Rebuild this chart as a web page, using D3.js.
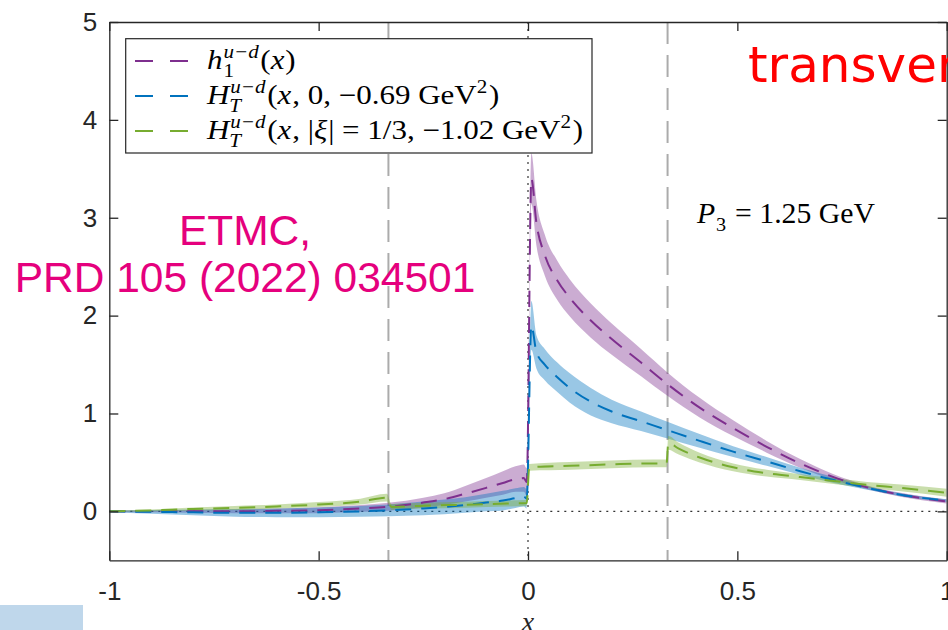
<!DOCTYPE html>
<html>
<head>
<meta charset="utf-8">
<script src="https://cdn.jsdelivr.net/npm/d3@7"></script>
<style>
  body { margin: 0; background: #fff; }
  svg text { white-space: pre; }
</style>
</head>
<body>
<div id="chart"></div>
<script>
var svgWidth = 948;
var svgHeight = 630;

// x grid shared by h1 and H_T(xi=0)
var xh = [-1, -0.9, -0.8, -0.7, -0.6, -0.5, -0.4, -0.333, -0.25, -0.2, -0.15, -0.1, -0.06, -0.03, -0.01, -0.003,
  0.008, 0.02, 0.04, 0.07, 0.1, 0.15, 0.2, 0.27, 0.333, 0.41, 0.49, 0.57, 0.65, 0.73, 0.81, 0.89, 1.0];

// h1^{u-d}(x)
var h1Mid = [0, 0, 0, 0, 0.005, 0.012, 0.03, 0.047, 0.09, 0.125, 0.18, 0.24, 0.29, 0.33, 0.34, 0.30,
  3.40, 2.95, 2.62, 2.36, 2.18, 1.95, 1.76, 1.52, 1.30, 1.06, 0.85, 0.66, 0.49, 0.35, 0.245, 0.17, 0.10];
var h1Err = [0.01, 0.01, 0.015, 0.02, 0.025, 0.03, 0.035, 0.04, 0.05, 0.06, 0.08, 0.10, 0.12, 0.13, 0.14, 0.14,
  0.26, 0.23, 0.21, 0.20, 0.19, 0.175, 0.16, 0.14, 0.12, 0.10, 0.08, 0.06, 0.045, 0.03, 0.02, 0.02, 0.02];

// H_T^{u-d}(x, 0, -0.69 GeV^2)
var ht0Mid = [0, -0.005, -0.01, -0.015, -0.015, -0.01, 0, 0.01, 0.03, 0.045, 0.065, 0.09, 0.11, 0.135, 0.15, 0.13,
  1.90, 1.63, 1.50, 1.37, 1.26, 1.12, 1.02, 0.92, 0.83, 0.72, 0.61, 0.51, 0.41, 0.32, 0.24, 0.17, 0.11];
var ht0Err = [0.01, 0.02, 0.03, 0.04, 0.045, 0.05, 0.055, 0.06, 0.07, 0.075, 0.08, 0.09, 0.10, 0.10, 0.10, 0.10,
  0.25, 0.17, 0.16, 0.15, 0.15, 0.14, 0.12, 0.10, 0.085, 0.07, 0.055, 0.045, 0.035, 0.03, 0.02, 0.015, 0.015];

// H_T^{u-d}(x, |xi|=1/3, -1.02 GeV^2)
var xg = [-1, -0.9, -0.8, -0.7, -0.6, -0.5, -0.4, -0.337, -0.326, -0.25, -0.15, -0.05, -0.003,
  0.003, 0.1, 0.2, 0.3, 0.331, 0.335, 0.36, 0.41, 0.49, 0.57, 0.65, 0.73, 0.81, 0.89, 1.0];
var ht3Mid = [0, 0.01, 0.025, 0.035, 0.05, 0.07, 0.10, 0.14, 0.045, 0.058, 0.068, 0.08, 0.085,
  0.45, 0.465, 0.48, 0.49, 0.49, 0.70, 0.64, 0.55, 0.45, 0.39, 0.35, 0.31, 0.27, 0.24, 0.19];
var ht3Err = [0.005, 0.01, 0.015, 0.02, 0.02, 0.025, 0.03, 0.04, 0.03, 0.03, 0.03, 0.03, 0.03,
  0.035, 0.04, 0.04, 0.04, 0.04, 0.07, 0.06, 0.05, 0.04, 0.035, 0.03, 0.03, 0.03, 0.035, 0.04];

var xTicks = [-1, -0.5, 0, 0.5, 1];
var xTickLabels = ["-1", "-0.5", "0", "0.5", "1"];
var yTicks = [0, 1, 2, 3, 4, 5];
var xiLines = [-1 / 3, 1 / 3];

var colors = ["#7E2F8E", "#0072BD", "#77AC30"];

var series = [
  { x: xh, mid: h1Mid, err: h1Err, color: colors[0] },
  { x: xh, mid: ht0Mid, err: ht0Err, color: colors[1] },
  { x: xg, mid: ht3Mid, err: ht3Err, color: colors[2] }
];

var legendLabels = [
  [{ t: "h", i: 1 }, { sup: "u\u2212d", sub: "1" }, { t: "(" }, { t: "x", i: 1 }, { t: ")" }],
  [{ t: "H", i: 1 }, { sup: "u\u2212d", sub: "T", subI: 1 }, { t: "(" }, { t: "x", i: 1 }, { t: ", 0, \u22120.69 GeV" }, { sup: "2" }, { t: ")" }],
  [{ t: "H", i: 1 }, { sup: "u\u2212d", sub: "T", subI: 1 }, { t: "(" }, { t: "x", i: 1 }, { t: ", |" }, { t: "\u03BE", i: 1 }, { t: "| = 1/3, \u22121.02 GeV" }, { sup: "2" }, { t: ")" }]
];

var axisColor = "#262626";

var svg = d3.select("#chart")
  .append("svg")
  .attr("width", svgWidth)
  .attr("height", svgHeight);

var xScale = d3.scaleLinear().domain([-1, 1]).range([109.3, 946.7]);
var yScale = d3.scaleLinear().domain([-0.5, 5]).range([560.3, 22]);

svg.append("rect")
  .attr("x", 0).attr("y", 605).attr("width", 83).attr("height", 25)
  .attr("fill", "#bfd7eb");

svg.append("defs").append("clipPath").attr("id", "plot")
  .append("rect")
  .attr("x", xScale(-1)).attr("y", yScale(5))
  .attr("width", xScale(1) - xScale(-1)).attr("height", yScale(-0.5) - yScale(5));

var plot = svg.append("g").attr("clip-path", "url(#plot)");

// dotted zero lines
plot.append("line")
  .attr("x1", xScale(-1)).attr("x2", xScale(1))
  .attr("y1", yScale(0)).attr("y2", yScale(0))
  .attr("stroke", "#333").attr("stroke-width", 1.2).attr("stroke-dasharray", "2,5");
plot.append("line")
  .attr("x1", xScale(0)).attr("x2", xScale(0))
  .attr("y1", yScale(5)).attr("y2", yScale(-0.5))
  .attr("stroke", "#333").attr("stroke-width", 1.2).attr("stroke-dasharray", "2,5");

// grey dashed lines at x = +-xi
plot.selectAll(".xi")
  .data(xiLines)
  .enter()
  .append("line")
  .attr("x1", d => xScale(d)).attr("x2", d => xScale(d))
  .attr("y1", yScale(5)).attr("y2", yScale(-0.5))
  .attr("stroke", "#ababab").attr("stroke-width", 2).attr("stroke-dasharray", "22,11");

var area = d3.area()
  .x(d => xScale(d.x))
  .y0(d => yScale(d.m - d.e))
  .y1(d => yScale(d.m + d.e))
  .curve(d3.curveMonotoneX);

var line = d3.line()
  .x(d => xScale(d.x))
  .y(d => yScale(d.m))
  .curve(d3.curveMonotoneX);

function pts(s) {
  return s.x.map((x, i) => ({ x: x, m: s.mid[i], e: s.err[i] }));
}

series.forEach(function(s) {
  plot.append("path")
    .attr("d", area(pts(s)))
    .attr("fill", s.color)
    .attr("fill-opacity", 0.4);
});
series.forEach(function(s) {
  plot.append("path")
    .attr("d", line(pts(s)))
    .attr("fill", "none")
    .attr("stroke", s.color)
    .attr("stroke-width", 2)
    .attr("stroke-dasharray", "16,10");
});

// axes (box, inward ticks)
var xAxis = d3.axisBottom(xScale).tickValues(xTicks)
  .tickFormat((d, i) => xTickLabels[i]).tickSizeInner(-9).tickSizeOuter(0).tickPadding(21);
var yAxis = d3.axisLeft(yScale).tickValues(yTicks)
  .tickFormat(d3.format("d")).tickSizeInner(-9).tickSizeOuter(0).tickPadding(12);

var gx = svg.append("g").attr("transform", `translate(0,${yScale(-0.5)})`).call(xAxis);
var gy = svg.append("g").attr("transform", `translate(${xScale(-1)},0)`).call(yAxis);
var gt = svg.append("g").attr("transform", `translate(0,${yScale(5)})`)
  .call(d3.axisTop(xScale).tickValues(xTicks).tickFormat("").tickSizeInner(-9).tickSizeOuter(0));
var gr = svg.append("g").attr("transform", `translate(${xScale(1)},0)`)
  .call(d3.axisRight(yScale).tickValues(yTicks).tickFormat("").tickSizeInner(-9).tickSizeOuter(0));

[gx, gy, gt, gr].forEach(function(g) {
  g.select(".domain").attr("stroke", axisColor).attr("stroke-width", 1.3);
  g.selectAll(".tick line").attr("stroke", axisColor).attr("stroke-width", 1.3);
  g.selectAll(".tick text")
    .attr("fill", axisColor)
    .attr("font-family", "'Liberation Sans', Arial, sans-serif")
    .attr("font-size", 26);
});

svg.append("text")
  .attr("x", xScale(0)).attr("y", 631)
  .attr("text-anchor", "middle")
  .attr("font-family", "'Liberation Serif', serif")
  .attr("font-style", "italic")
  .attr("font-size", 28)
  .attr("fill", axisColor)
  .text("x");

// small math-like text builder
function drawMath(g, x, y, parts, fs) {
  var cx = x;
  var font = "'Liberation Serif', 'Times New Roman', serif";
  parts.forEach(function(p) {
    if (p.sup !== undefined || p.sub !== undefined) {
      var w = 0;
      if (p.sup !== undefined) {
        var ts = g.append("text").attr("x", cx).attr("y", y - fs * 0.42)
          .attr("font-family", font).attr("font-size", fs * 0.68)
          .attr("font-style", /\d/.test(p.sup) ? "normal" : "italic")
          .text(p.sup);
        w = Math.max(w, ts.node().getComputedTextLength());
      }
      if (p.sub !== undefined) {
        var tb = g.append("text").attr("x", cx + (p.subI ? -1 : 0)).attr("y", y + fs * 0.28)
          .attr("font-family", font).attr("font-size", fs * 0.68)
          .attr("font-style", p.subI ? "italic" : "normal")
          .text(p.sub);
        w = Math.max(w, tb.node().getComputedTextLength());
      }
      cx += w + fs * 0.05;
    } else {
      var t = g.append("text").attr("x", cx).attr("y", y)
        .attr("font-family", font).attr("font-size", fs)
        .attr("font-style", p.i ? "italic" : "normal")
        .text(p.t);
      cx += t.node().getComputedTextLength() + (p.i ? fs * 0.03 : 0);
    }
  });
  g.attr("fill", "#000");
  return cx - x;
}

function stretch(g, x0, sx) {
  g.attr("transform", `translate(${x0},0) scale(${sx},1) translate(${-x0},0)`);
}

// legend
var legend = svg.append("g");
legend.append("rect")
  .attr("x", 125.7).attr("y", 38.7).attr("width", 466.3).attr("height", 114.3)
  .attr("fill", "#fff").attr("stroke", axisColor).attr("stroke-width", 1.2);

var rowY = [61, 96, 131];
var textX = 207;
var widths = [];
var rowGroups = [];
legendLabels.forEach(function(parts, i) {
  legend.append("line")
    .attr("x1", 135).attr("x2", 190)
    .attr("y1", rowY[i]).attr("y2", rowY[i])
    .attr("stroke", colors[i]).attr("stroke-width", 2)
    .attr("stroke-dasharray", "18,17");
  var g = legend.append("g");
  widths.push(drawMath(g, textX, rowY[i] + 8, parts, 27));
  rowGroups.push(g);
});
var legendScale = 376 / widths[2];
rowGroups.forEach(g => stretch(g, textX, legendScale));

// P3 label
var pg = svg.append("g");
var pw = drawMath(pg, 697, 223, [{ t: "P", i: 1 }, { sub: "3" }, { t: " = 1.25 GeV" }], 29);
stretch(pg, 697, 178 / pw);

// annotations
var etmc = svg.append("g")
  .attr("font-family", "'Liberation Sans', Arial, sans-serif")
  .attr("font-size", 42.5)
  .attr("fill", "#e5007d")
  .attr("text-anchor", "middle");
etmc.append("text").attr("x", 245).attr("y", 245).text("ETMC,");
etmc.append("text").attr("x", 245).attr("y", 292).text("PRD 105 (2022) 034501");

svg.append("text")
  .attr("x", 748).attr("y", 82)
  .attr("font-family", "'DejaVu Sans', sans-serif")
  .attr("font-size", 50)
  .attr("fill", "#ff0000")
  .text("transversity");
</script>
</body>
</html>
